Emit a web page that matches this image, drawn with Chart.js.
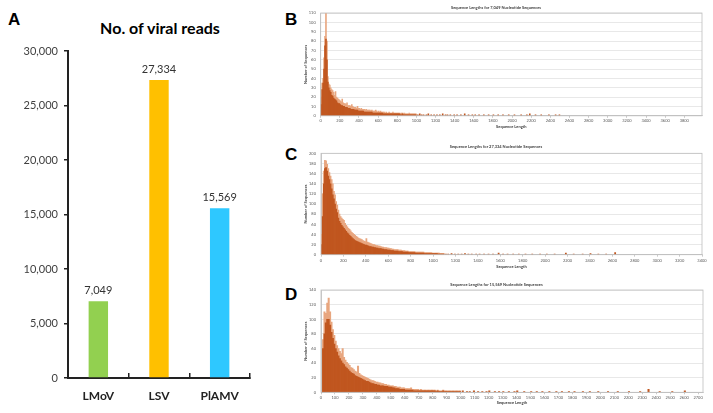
<!DOCTYPE html>
<html><head><meta charset="utf-8">
<script src="https://cdn.jsdelivr.net/npm/chart.js@4"></script>
<style>
html,body{margin:0;padding:0;background:#fff;}
body{width:713px;height:413px;overflow:hidden;position:relative;}
canvas{position:absolute;}
.letter{position:absolute;font-family:"Liberation Sans",Arial,sans-serif;font-weight:bold;font-size:17px;line-height:17px;color:#000;}
#titleA{position:absolute;left:40px;width:240px;top:18px;text-align:center;font-family:Lato,sans-serif;font-weight:bold;font-size:16px;line-height:20px;color:#000;}
</style></head><body>
<div class="letter" style="left:8px;top:11px">A</div>
<div class="letter" style="left:285px;top:11px">B</div>
<div class="letter" style="left:285px;top:146px">C</div>
<div class="letter" style="left:285px;top:286px">D</div>
<div id="titleA">No. of viral reads</div>
<canvas id="cA" width="262" height="413" style="left:0;top:0"></canvas>
<canvas id="cB" width="423" height="138" style="left:290px;top:0"></canvas>
<canvas id="cC" width="423" height="138" style="left:290px;top:139px"></canvas>
<canvas id="cD" width="423" height="138" style="left:290px;top:275px"></canvas>
<script>
// ---------- Panel A data ----------
const categories = ['LMoV', 'LSV', 'PlAMV'];
const reads = [7049, 27334, 15569];
const barColors = ['#92D050', '#FFC000', '#2EC8FF'];
const yMaxA = 30000, yStepA = 5000;

// ---------- Histogram data (counts per 10-nt bin, starting at 0) ----------
const BIN = 10;
const B_core = [12,28,35,50,75,82,60,36,30,27,25,22,21,19,18,17,16,14,13,13,
  12,11,11,10,10,9,9,9,8,8,8,7,7,7,7,6,6,6,6,5,
  5,5,5,5,5,4,4,4,4,4,4,4,4,4,3,3,3,3,3,3,
  3,3,3,3,3,2,2,2,2,2,2,2,2,2,2,2,2,2,2,2,
  2,2,2,1,1,2,1,1,1,1,1,1,1,1,1,1,1,1,1,1];
const B_peak = [20,35,40,62,85,110,80,42,34,33,30,28,27,25,22,26,20,19,18,17,
  16,15,18,14,13,13,12,14,11,11,11,10,12,10,9,9,9,8,10,8,
  8,7,8,7,7,7,6,7,6,6,6,6,5,6,5,5,5,6,5,4,
  5,4,5,4,4,4,4,3,4,3,3,4,3,3,3,4,3,3,3,3,
  3,3,3,2,3,3,2,3,2,2,2,2,3,2,2,2,2,2,2,2];
const B_tailLen = [1010,1030,1050,1070,1100,1120,1150,1180,1210,1240,1270,1300,1320,1350,1390,1420,1460,1500,1540,1580,1610,1650,1700,1750,1800,1850,1900,1960,2020,2090,2150,2180,2240,2300,2380,2450,2490];
const B_tailCnt = [1,2,1,1,1,2,1,1,1,1,2,1,1,1,1,1,1,2,1,1,1,1,1,1,1,1,1,1,1,1,1,2,1,1,1,1,1];

const C_core = [20,75,140,170,172,165,155,148,140,130,118,110,100,90,83,72,66,62,58,55,
  52,49,46,43,41,38,36,34,32,30,28,27,26,25,24,23,22,21,20,19,
  19,18,17,16,16,15,15,14,14,13,13,12,12,12,11,11,10,10,10,9,
  9,9,8,8,8,7,7,7,7,6,6,6,6,5,5,5,5,5,4,4,
  4,4,4,4,3,3,3,3,3,3,3,3,2,2,2,2,2,2,2,2,
  2,2,2,2,1,1,1,1,1,1];
const C_peak = [40,120,165,186,185,178,170,162,155,148,140,125,118,105,98,88,80,75,72,70,
  68,62,58,55,52,50,47,44,42,40,38,36,35,33,32,31,30,28,27,26,
  32,25,24,23,22,21,20,20,19,18,18,17,17,16,15,15,14,14,14,13,
  13,12,12,11,11,10,10,10,10,9,9,9,8,8,8,7,7,7,6,6,
  6,6,6,6,5,5,5,5,5,5,5,5,4,4,4,4,4,4,4,3,
  3,3,3,3,3,3,2,2,2,2];
const C_tailLen = [1110,1130,1160,1190,1220,1250,1280,1310,1340,1380,1410,1450,1490,1530,1580,1620,1660,1710,1760,1820,1880,1950,2010,2080,2180,2250,2330,2400,2470,2540,2620];
const C_tailCnt = [1,1,2,1,1,1,2,1,1,1,1,1,1,1,3,1,1,1,1,1,1,1,1,1,3,1,1,2,1,1,4];

const D_core = [0,60,80,95,100,100,92,82,74,66,60,55,50,46,43,40,38,35,33,31,
  29,27,26,25,23,22,21,20,19,18,17,16,15,15,14,13,12,12,11,11,
  10,10,9,9,9,8,8,8,7,7,7,6,6,5,5,5,4,4,4,4,
  3,3,3,3,3,3,2,2,2,2,2,2,2,2,2,2,2,2,2,2,
  2,2,1,2,1,1,1,2,1,1,1,1,1,1,1,1,1,1,1,1];
const D_peak = [0,72,110,108,122,129,110,96,86,78,70,64,60,56,53,60,48,44,41,39,
  37,34,33,31,29,28,36,26,24,23,22,21,20,19,18,17,16,16,15,14,
  14,13,13,12,12,11,11,10,10,9,9,9,8,8,7,7,7,6,6,6,
  5,5,5,5,6,4,4,4,4,4,3,4,3,3,3,3,3,3,3,3,
  3,3,2,3,2,2,2,3,2,2,2,2,2,2,2,2,2,2,2,2];
const D_tailLen = [1010,1040,1060,1090,1120,1150,1180,1200,1240,1270,1300,1340,1380,1400,1450,1500,1540,1580,1630,1680,1720,1770,1810,1870,1920,1980,2050,2120,2200,2280,2340,2420,2510,2600];
const D_tailCnt = [2,1,1,2,1,1,1,2,1,1,1,1,1,2,1,1,1,1,1,1,1,1,1,1,1,1,1,1,1,1,4,1,1,2];

// ---------- Panel A ----------
const valueLabels = {
  id: 'valueLabels',
  afterDatasetsDraw(chart) {
    const ctx = chart.ctx;
    const meta = chart.getDatasetMeta(0);
    ctx.save();
    ctx.font = '11px Lato, sans-serif';
    ctx.fillStyle = '#333';
    ctx.textAlign = 'center';
    ctx.textBaseline = 'bottom';
    meta.data.forEach((bar, i) => {
      ctx.fillText(reads[i].toLocaleString('en-US'), bar.x, bar.y - 5);
    });
    ctx.restore();
  }
};

new Chart(document.getElementById('cA'), {
  type: 'bar',
  data: {
    labels: categories,
    datasets: [{ data: reads, backgroundColor: barColors, barPercentage: 0.32, categoryPercentage: 1 }]
  },
  options: {
    responsive: false, animation: false, events: [],
    layout: { padding: { left: 0, right: 12, top: 51, bottom: 0 } },
    plugins: { legend: { display: false }, tooltip: { enabled: false } },
    scales: {
      x: {
        grid: { drawOnChartArea: false, drawTicks: true, tickLength: -5, color: '#222', lineWidth: 1.5 },
        border: { color: '#222', width: 2 },
        ticks: { font: { family: 'Lato', weight: 'bold', size: 12 }, color: '#222', padding: 16 },
        afterFit: s => { s.height = 35; }
      },
      y: {
        min: 0, max: yMaxA,
        ticks: { stepSize: yStepA, font: { family: 'Lato', size: 11 }, color: '#404040', padding: 6 },
        grid: { drawOnChartArea: false, tickLength: 4, color: '#222', lineWidth: 1.5 },
        border: { color: '#222', width: 2 },
        afterFit: s => { s.width = 68; }
      }
    }
  },
  plugins: [valueLabels]
});

// ---------- Histograms ----------
const frame = {
  id: 'frame',
  afterDatasetsDraw(c) {
    const { ctx, chartArea: a } = c;
    ctx.save();
    ctx.strokeStyle = '#bfbfbf';
    ctx.lineWidth = 0.8;
    ctx.strokeRect(a.left, a.top, a.right - a.left, a.bottom - a.top);
    ctx.restore();
  }
};

function hist(id, cfg) {
  const core = cfg.core.map((v, i) => ({ x: i * BIN + BIN / 2, y: v }))
    .concat(cfg.tailLen.map((L, i) => ({ x: L + BIN / 2, y: cfg.tailCnt[i] })));
  const peak = cfg.peak.map((v, i) => ({ x: i * BIN + BIN / 2, y: v }));
  const tickVals = [];
  for (let v = 0; v <= cfg.xMax; v += cfg.xStep) tickVals.push(v);
  const small = { size: 4, family: 'Lato' };
  const smallB = { size: 4, family: 'Lato', weight: 'bold' };
  new Chart(document.getElementById(id), {
    type: 'bar',
    data: {
      datasets: [
        { data: core, backgroundColor: '#c0561f', grouped: false, barPercentage: 1, categoryPercentage: 1 },
        { data: peak, backgroundColor: '#e8a67f', grouped: false, barPercentage: 1, categoryPercentage: 1 }
      ]
    },
    options: {
      responsive: false, animation: false, events: [],
      layout: { padding: { left: 0, right: cfg.padR, top: 0, bottom: 0 } },
      plugins: {
        legend: { display: false }, tooltip: { enabled: false },
        title: { display: true, text: cfg.title, font: smallB, color: '#404040',
          padding: { top: cfg.titleTop, bottom: cfg.titleBot } }
      },
      scales: {
        x: {
          type: 'linear', min: 0, max: cfg.xMax, offset: false,
          afterBuildTicks: s => { s.ticks = tickVals.map(v => ({ value: v })); },
          ticks: { autoSkip: false, maxRotation: 0,
            font: small, color: '#595959', padding: cfg.xTickPad,
            callback: v => String(v) },
          grid: { offset: false, drawOnChartArea: false, tickLength: 2, color: '#a6a6a6', lineWidth: 0.6 },
          border: { color: '#bfbfbf', width: 0.8 },
          title: { display: true, text: 'Sequence Length', font: smallB, color: '#404040',
            padding: { top: 0, bottom: cfg.xTitlePad } },
          afterFit: s => { s.height = cfg.xH; }
        },
        y: {
          min: 0, max: cfg.yMax,
          ticks: { stepSize: cfg.yStep, font: small, color: '#595959', padding: 5 },
          grid: { color: '#d9d9d9', lineWidth: 0.6, drawTicks: false },
          border: { color: '#bfbfbf', width: 0.8 },
          title: { display: true, text: 'Number of Sequences', font: smallB, color: '#404040',
            padding: { top: 13.3, bottom: 0 } },
          afterFit: s => { s.width = cfg.yW; }
        }
      }
    },
    plugins: [frame]
  });
}

hist('cB', { core: B_core, peak: B_peak, tailLen: B_tailLen, tailCnt: B_tailCnt,
  title: 'Sequence Lengths for 7,049 Nucleotide Sequences',
  xMax: 3985, xStep: 200, yMax: 110, yStep: 10,
  padR: 11, yW: 30.7, titleTop: 4.9, titleBot: 3.3, xH: 22.2, xTitlePad: 8.6, xTickPad: 1 });
hist('cC', { core: C_core, peak: C_peak, tailLen: C_tailLen, tailCnt: C_tailCnt,
  title: 'Sequence Lengths for 27,334 Nucleotide Sequences',
  xMax: 3400, xStep: 200, yMax: 200, yStep: 20,
  padR: 11, yW: 31, titleTop: 5.3, titleBot: 4.2, xH: 22.3, xTitlePad: 7.6, xTickPad: 2 });
hist('cD', { core: D_core, peak: D_peak, tailLen: D_tailLen, tailCnt: D_tailCnt,
  title: 'Sequence Lengths for 15,569 Nucleotide Sequences',
  xMax: 2735, xStep: 100, yMax: 140, yStep: 20,
  padR: 10, yW: 31, titleTop: 6.9, titleBot: 3.3, xH: 20.7, xTitlePad: 7.6, xTickPad: 1.4 });
</script>
</body></html>
